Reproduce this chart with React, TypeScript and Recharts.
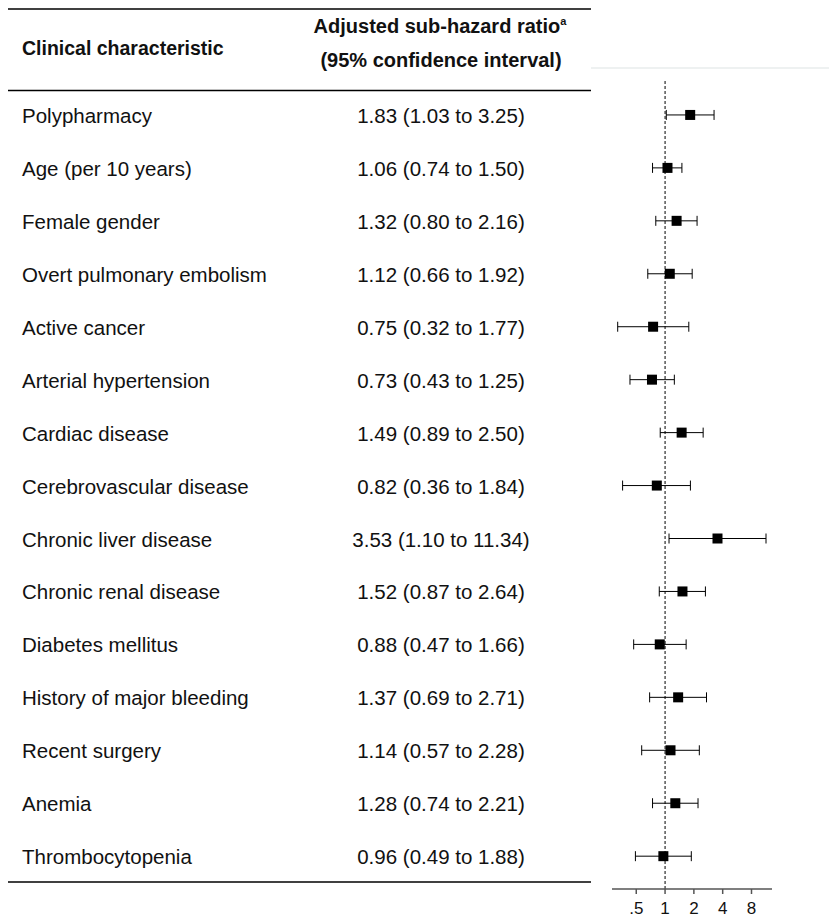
import { ScatterChart, Scatter, XAxis, YAxis, ErrorBar, ReferenceLine } from "recharts"

const characteristics = [
  "Polypharmacy",
  "Age (per 10 years)",
  "Female gender",
  "Overt pulmonary embolism",
  "Active cancer",
  "Arterial hypertension",
  "Cardiac disease",
  "Cerebrovascular disease",
  "Chronic liver disease",
  "Chronic renal disease",
  "Diabetes mellitus",
  "History of major bleeding",
  "Recent surgery",
  "Anemia",
  "Thrombocytopenia",
]

const ratios = [1.83, 1.06, 1.32, 1.12, 0.75, 0.73, 1.49, 0.82, 3.53, 1.52, 0.88, 1.37, 1.14, 1.28, 0.96]
const lower = [1.03, 0.74, 0.8, 0.66, 0.32, 0.43, 0.89, 0.36, 1.1, 0.87, 0.47, 0.69, 0.57, 0.74, 0.49]
const upper = [3.25, 1.5, 2.16, 1.92, 1.77, 1.25, 2.5, 1.84, 11.34, 2.64, 1.66, 2.71, 2.28, 2.21, 1.88]

const xTicks = [0.5, 1, 2, 4, 8]
const rowTicks = characteristics.map((_, i) => i)

const fmt = (v: number) => v.toFixed(2)

const data = characteristics.map((name, i) => ({
  row: i,
  hr: ratios[i],
  err: [ratios[i] - lower[i], upper[i] - ratios[i]],
  label: name,
  ci: `${fmt(ratios[i])} (${fmt(lower[i])} to ${fmt(upper[i])})`,
}))

const FONT = "'Liberation Sans', Arial, Helvetica, sans-serif"

function renderRowTick(props: any) {
  const { y, payload, index } = props
  const d = data[payload?.value ?? index]
  if (!d) return <g />
  return (
    <g key={`row-${index}`}>
      <text x={22} y={y + 8} fontSize={20.5} fontFamily={FONT} fill="#111">
        {d.label}
      </text>
      <text x={441} y={y + 8} fontSize={20.5} fontFamily={FONT} fill="#111" textAnchor="middle">
        {d.ci}
      </text>
    </g>
  )
}

function Square(props: any) {
  const { cx, cy } = props
  return <rect x={cx - 5} y={cy - 5} width={10} height={10} fill="#000" />
}

export default function App() {
  return (
    <div style={{ position: "absolute", left: 0, top: 0, width: 829, height: 917, background: "#fff" }}>
      <svg
        width={829}
        height={917}
        style={{ position: "absolute", left: 0, top: 0 }}
        fontFamily={FONT}
      >
        <line x1={8} x2={591} y1={9} y2={9} stroke="#000" strokeWidth={1.5} />
        <line x1={591} x2={829} y1={68} y2={68} stroke="#e8ecec" strokeWidth={1.5} />
        <line x1={8} x2={591} y1={90.5} y2={90.5} stroke="#000" strokeWidth={1.5} />
        <line x1={8} x2={591} y1={882} y2={882} stroke="#000" strokeWidth={1.5} />
        <text x={22} y={55} fontSize={19.5} fontWeight="bold" fill="#111">
          Clinical characteristic
        </text>
        <text x={440} y={32.5} fontSize={20} fontWeight="bold" fill="#111" textAnchor="middle">
          Adjusted sub-hazard ratio
          <tspan fontSize={11} dy={-8}>a</tspan>
        </text>
        <text x={441} y={67} fontSize={20} fontWeight="bold" fill="#111" textAnchor="middle">
          (95% confidence interval)
        </text>
      </svg>
      <div style={{ position: "absolute", left: 0, top: 0 }}>
        <ScatterChart width={829} height={917} margin={{ top: 80, right: 57, bottom: 0, left: 8 }}>
          <XAxis
            type="number"
            dataKey="hr"
            scale="log"
            domain={[0.279, 13.1]}
            allowDataOverflow
            ticks={xTicks}
            interval={0}
            tickFormatter={(v: number) => (v === 0.5 ? ".5" : String(v))}
            height={28}
            stroke="#555"
            strokeWidth={1.5}
            tickSize={5}
            tickMargin={8}
            tick={{ fill: "#111", fontSize: 17, fontFamily: FONT }}
          />
          <YAxis
            type="number"
            dataKey="row"
            domain={[-0.66, 14.62]}
            reversed
            ticks={rowTicks}
            interval={0}
            width={604}
            axisLine={false}
            tickLine={false}
            tick={renderRowTick}
          />
          <ReferenceLine x={1} stroke="#000" strokeWidth={1} strokeDasharray="3 2" />
          <Scatter data={data} shape={<Square />} isAnimationActive={false}>
            <ErrorBar dataKey="err" direction="x" width={5} stroke="#000" strokeWidth={1} />
          </Scatter>
        </ScatterChart>
      </div>
    </div>
  )
}
